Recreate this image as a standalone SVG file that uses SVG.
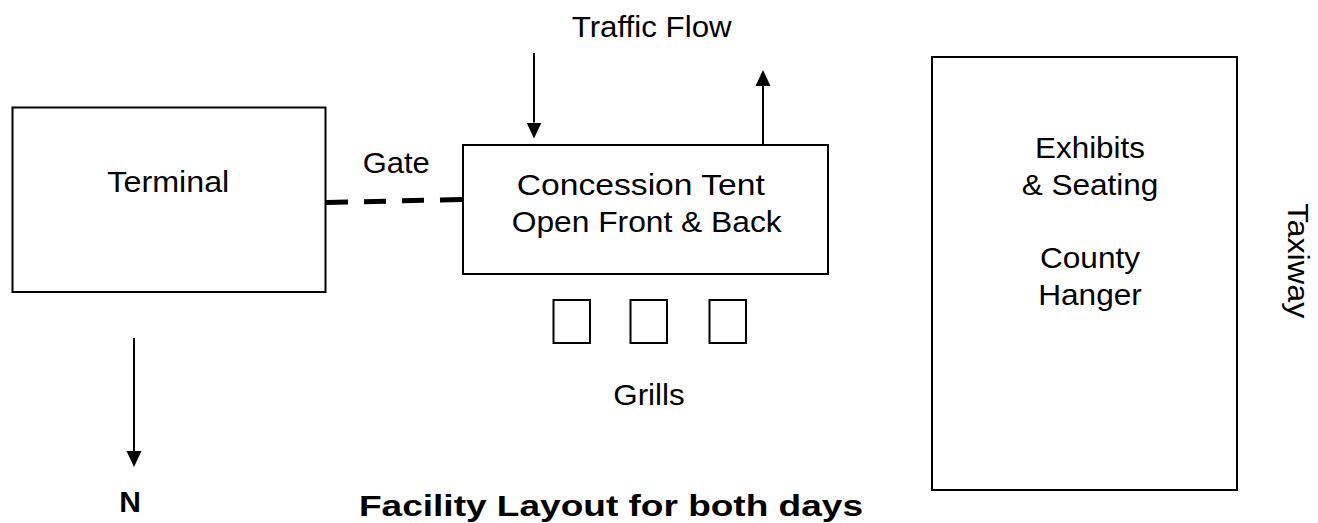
<svg xmlns="http://www.w3.org/2000/svg" width="1318" height="523" viewBox="0 0 1318 523">
  <defs>
    <style>
      .box { fill: #ffffff; stroke: #000000; stroke-width: 2; }
      .t { font-family: "Liberation Sans", Arial, sans-serif; font-size: 30px; fill: #000000; text-anchor: middle; }
      .b { font-family: "Liberation Sans", Arial, sans-serif; font-weight: bold; fill: #000000; text-anchor: middle; }
      .ln { stroke: #000000; stroke-width: 2; fill: none; }
    </style>
    <marker id="ah" viewBox="0 0 16 16" refX="0" refY="8" markerWidth="16" markerHeight="16" markerUnits="userSpaceOnUse" orient="auto">
      <path d="M0,0.5 L16,8 L0,15.5 z" fill="#000000"/>
    </marker>
  </defs>
  <rect x="0" y="0" width="1318" height="523" fill="#ffffff"/>

  <g id="terminal">
    <rect class="box" x="12.5" y="107.5" width="313" height="184.5"/>
    <text class="t" x="168.3" y="191.7" textLength="122" lengthAdjust="spacingAndGlyphs">Terminal</text>
  </g>

  <g id="gate-label">
    <text class="t" x="396.3" y="173.3" textLength="67" lengthAdjust="spacingAndGlyphs">Gate</text>
  </g>

  <g id="concession-tent">
    <rect class="box" x="463" y="145" width="365" height="129"/>
    <text class="t" x="640.8" y="195" textLength="248" lengthAdjust="spacingAndGlyphs">Concession Tent</text>
    <text class="t" x="646.7" y="231.7" textLength="270" lengthAdjust="spacingAndGlyphs">Open Front &amp; Back</text>
  </g>

  <g id="traffic-flow-label">
    <text class="t" x="651.7" y="36.7" textLength="160" lengthAdjust="spacingAndGlyphs">Traffic Flow</text>
  </g>

  <g id="grills">
    <rect class="box" x="553.5" y="300" width="36.5" height="43"/>
    <rect class="box" x="630.5" y="300" width="36.5" height="43"/>
    <rect class="box" x="709.5" y="300" width="36.5" height="43"/>
    <text class="t" x="649" y="405" textLength="71.5" lengthAdjust="spacingAndGlyphs">Grills</text>
  </g>

  <g id="county-hanger">
    <rect class="box" x="932" y="57" width="305" height="433"/>
    <text class="t" x="1090" y="158.3" textLength="110" lengthAdjust="spacingAndGlyphs">Exhibits</text>
    <text class="t" x="1090" y="195" textLength="136.7" lengthAdjust="spacingAndGlyphs">&amp; Seating</text>
    <text class="t" x="1090" y="268.3" textLength="100" lengthAdjust="spacingAndGlyphs">County</text>
    <text class="t" x="1090" y="305" textLength="103.7" lengthAdjust="spacingAndGlyphs">Hanger</text>
  </g>

  <g id="taxiway">
    <text class="t" transform="translate(1288,260.8) rotate(90)" x="0" y="0" textLength="115" lengthAdjust="spacingAndGlyphs">Taxiway</text>
  </g>

  <g id="north">
    <text class="b" x="130" y="511.7" font-size="30">N</text>
  </g>

  <g id="title">
    <text class="b" x="611" y="516" font-size="30" textLength="504" lengthAdjust="spacingAndGlyphs">Facility Layout for both days</text>
  </g>

  <g id="connectors">
    <line x1="326" y1="202.5" x2="462" y2="199.5" stroke="#000000" stroke-width="5" stroke-dasharray="22 16"/>
    <line class="ln" x1="534" y1="53" x2="534" y2="122.5" marker-end="url(#ah)"/>
    <line class="ln" x1="763" y1="145" x2="763" y2="86" marker-end="url(#ah)"/>
    <line class="ln" x1="134" y1="338" x2="134" y2="451" marker-end="url(#ah)"/>
  </g>
</svg>
